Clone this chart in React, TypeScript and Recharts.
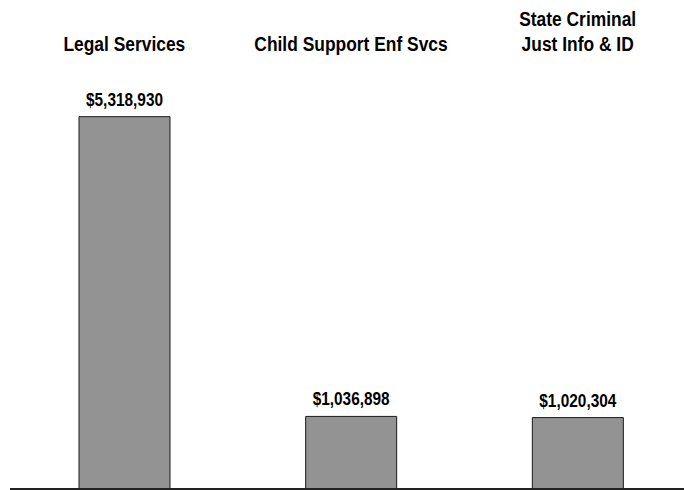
import React from 'react';
import { BarChart, Bar, XAxis, YAxis, LabelList, ReferenceLine } from 'recharts';

const categories = ['Legal Services', 'Child Support Enf Svcs', 'State Criminal\nJust Info & ID'];
const amounts = [5318930, 1036898, 1020304];

const data = categories.map((name, i) => ({ name, amount: amounts[i] }));

const FONT = '"Liberation Sans", Arial, sans-serif';

const fmt = (v: number) => '$' + v.toLocaleString('en-US');

// category titles sit above the plot area
const TitleTick = (props: any) => {
  const { x, y, payload } = props;
  const lines = String(payload.value).split('\n');
  const base = y - 10;
  return (
    <g>
      {lines.map((ln, i) => (
        <text
          key={i}
          transform={`translate(${x}, ${base - (lines.length - 1 - i) * 25}) scale(1, 1.12)`}
          textAnchor="middle"
          fontFamily={FONT}
          fontWeight="bold"
          fontSize={17.4}
          fill="#000"
        >
          {ln}
        </text>
      ))}
    </g>
  );
};

const ValueLabel = (props: any) => {
  const { x, y, width, value } = props;
  return (
    <text
      transform={`translate(${x + width / 2}, ${y - 11}) scale(1, 1.2)`}
      textAnchor="middle"
      fontFamily={FONT}
      fontWeight="bold"
      fontSize={15.4}
      fill="#000"
    >
      {fmt(value)}
    </text>
  );
};

export default function App() {
  return (
    <div style={{ position: 'absolute', left: 0, top: 0, width: 684, height: 490, overflow: 'hidden', background: '#fff' }}>
      <BarChart width={691} height={490} data={data} margin={{ top: 0, right: 0, left: 10, bottom: 0 }}>
        <XAxis
          dataKey="name"
          axisLine={false}
          tickLine={false}
          tick={false}
          height={1}
          padding={{ left: 1, right: 0 }}
        />
        <XAxis
          xAxisId="top"
          orientation="top"
          dataKey="name"
          axisLine={false}
          tickLine={false}
          tick={<TitleTick />}
          height={69}
          interval={0}
          padding={{ left: 1, right: 0 }}
        />
        <YAxis hide domain={[0, 6000000]} />
        <Bar dataKey="amount" fill="#939393" stroke="#1a1a1a" strokeWidth={1} barSize={91} isAnimationActive={false}>
          <LabelList dataKey="amount" content={<ValueLabel />} />
        </Bar>
        <ReferenceLine y={0} stroke="#222" strokeWidth={2} ifOverflow="visible" />
      </BarChart>
    </div>
  );
}
